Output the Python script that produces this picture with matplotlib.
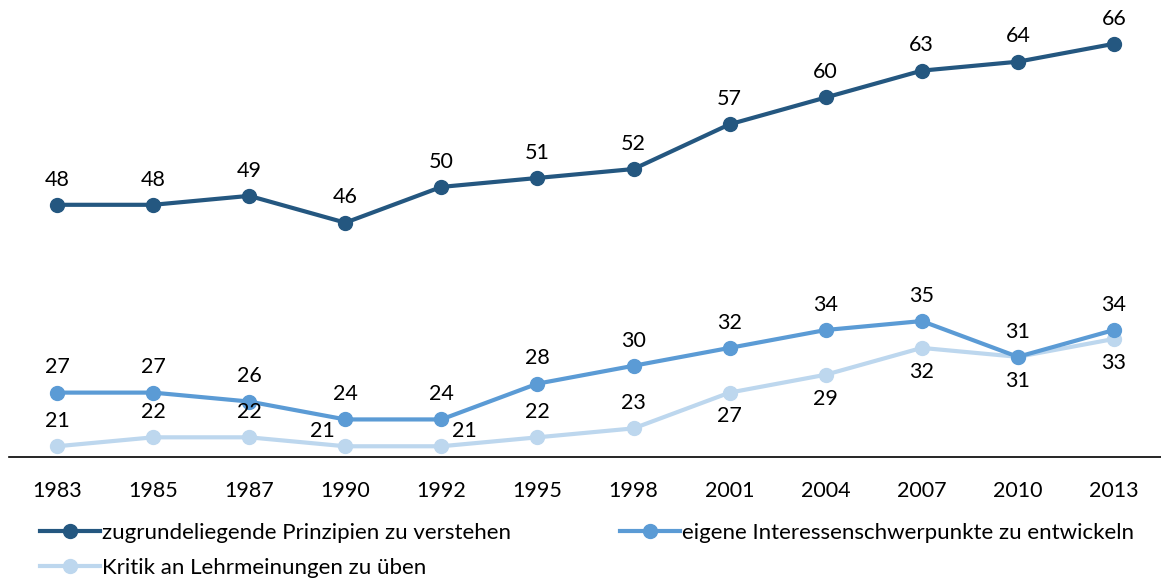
import matplotlib.pyplot as plt

years = ['1983', '1985', '1987', '1990', '1992', '1995', '1998',
         '2001', '2004', '2007', '2010', '2013']
prinzipien = [48, 48, 49, 46, 50, 51, 52, 57, 60, 63, 64, 66]
interessen = [27, 27, 26, 24, 24, 28, 30, 32, 34, 35, 31, 34]
kritik = [21, 22, 22, 21, 21, 22, 23, 27, 29, 32, 31, 33]

names = ['zugrundeliegende Prinzipien zu verstehen',
         'eigene Interessenschwerpunkte zu entwickeln',
         'Kritik an Lehrmeinungen zu üben']

# where the label of each point of the light series sits
kritik_pos = ['above', 'above', 'above', 'left', 'right', 'above', 'above',
              'below', 'below', 'below', 'below', 'below']

plt.rcParams['font.family'] = ['Lato', 'DejaVu Sans']

fig = plt.figure(figsize=(11.61, 5.78), dpi=100)
ax = fig.add_axes([9 / 1161, 121 / 578, 1153 / 1161, 457 / 578])

x = list(range(len(years)))
c_dark, c_mid, c_light = '#245780', '#5B9BD5', '#BDD7EE'

l3, = ax.plot(x, kritik, color=c_light, lw=3, marker='o', ms=10, label=names[2])
l2, = ax.plot(x, interessen, color=c_mid, lw=3, marker='o', ms=10, label=names[1])
l1, = ax.plot(x, prinzipien, color=c_dark, lw=3, marker='o', ms=10, label=names[0])

fs = 15.5
offsets = {'above': ((0, 11), 'bottom'), 'below': ((0, -10), 'top'),
           'left': ((-16.5, 11), 'center'), 'right': ((16.5, 11), 'center')}
for i in x:
    ax.annotate(str(prinzipien[i]), (i, prinzipien[i]), xytext=(0, 11),
                textcoords='offset points', ha='center', va='bottom', fontsize=fs)
    ax.annotate(str(interessen[i]), (i, interessen[i]), xytext=(0, 11),
                textcoords='offset points', ha='center', va='bottom', fontsize=fs)
    off, va = offsets[kritik_pos[i]]
    ax.annotate(str(kritik[i]), (i, kritik[i]), xytext=off,
                textcoords='offset points', ha='center', va=va, fontsize=fs)

ax.set_xlim(-0.5, len(years) - 0.5)
ax.set_ylim(19.8, 70.9)
ax.set_xticks(x)
ax.set_xticklabels(years, fontsize=fs)
ax.tick_params(axis='x', length=0, pad=17)
ax.set_yticks([])
for s in ['top', 'right', 'left']:
    ax.spines[s].set_visible(False)
ax.spines['bottom'].set_linewidth(1.2)
ax.spines['bottom'].set_color('#000000')

fig.legend([l1, l3, l2], [names[0], names[2], names[1]], ncol=2,
           loc='upper left', bbox_to_anchor=(40 / 1161, 1 - 523 / 578),
           frameon=False, fontsize=16, handlelength=2.7, handletextpad=0.1,
           columnspacing=4.9, labelspacing=0.68, borderpad=0, borderaxespad=0)

fig.savefig('out.png', dpi=100)
